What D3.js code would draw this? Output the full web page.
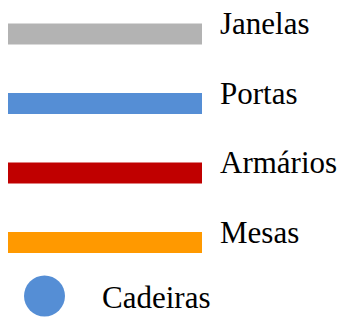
<!DOCTYPE html>
<html>
<head>
<meta charset="utf-8">
<script src="https://cdn.jsdelivr.net/npm/d3@7"></script>
<style>
  body { margin: 0; background: #fff; }
</style>
</head>
<body>
<script>
// legend entries drawn as lines
var lineSeries = ["Janelas", "Portas", "Armários", "Mesas"];
var lineColors = ["#b3b3b3", "#558ed5", "#c00000", "#ff9900"];
// legend entry drawn as a dot
var dotSeries = ["Cadeiras"];
var dotColors = ["#558ed5"];

var width = 345, height = 317;

var svg = d3.select("body").append("svg")
    .attr("width", width)
    .attr("height", height);

// vertical position of each row
var y = d3.scalePoint()
    .domain(lineSeries)
    .range([34, 242.5]);

var rows = svg.selectAll(".row")
    .data(lineSeries)
    .enter().append("g")
      .attr("class", "row")
      .attr("transform", function(d) { return "translate(0," + y(d) + ")"; });

rows.append("rect")
    .attr("x", 8)
    .attr("y", -10.5)
    .attr("width", 194)
    .attr("height", 21)
    .style("fill", function(d, i) { return lineColors[i]; });

rows.append("text")
    .attr("x", 220)
    .attr("y", 0)
    .attr("font-family", "Liberation Serif")
    .attr("font-size", 31)
    .attr("fill", "#000")
    .text(function(d) { return d; });

var dots = svg.selectAll(".dot")
    .data(dotSeries)
    .enter().append("g")
      .attr("class", "dot")
      .attr("transform", "translate(0,296)");

dots.append("circle")
    .attr("cx", 44.5)
    .attr("cy", 0)
    .attr("r", 20.5)
    .style("fill", function(d, i) { return dotColors[i]; });

dots.append("text")
    .attr("x", 102)
    .attr("y", 12)
    .attr("font-family", "Liberation Serif")
    .attr("font-size", 31)
    .attr("fill", "#000")
    .text(function(d) { return d; });
</script>
</body>
</html>
